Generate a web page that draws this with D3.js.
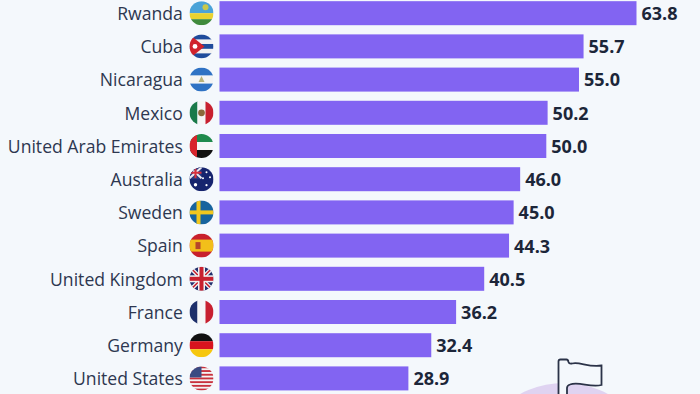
<!DOCTYPE html>
<html>
<head>
<meta charset="utf-8">
<script src="https://cdn.jsdelivr.net/npm/d3@7"></script>
<style>
html, body { margin: 0; padding: 0; background: #f4f8fc; overflow: hidden; }
svg { display: block; }
text { font-family: "Open Sans", sans-serif; }
</style>
</head>
<body>
<div id="chart"></div>
<script>
var countries = ['Rwanda', 'Cuba', 'Nicaragua', 'Mexico', 'United Arab Emirates', 'Australia', 'Sweden', 'Spain', 'United Kingdom', 'France', 'Germany', 'United States'];
var shares = [63.8, 55.7, 55.0, 50.2, 50.0, 46.0, 45.0, 44.3, 40.5, 36.2, 32.4, 28.9];

var width = 700, height = 394;
var x0 = 219.5;

var svg = d3.select('#chart').append('svg').attr('width', width).attr('height', height);

var x = d3.scaleLinear().domain([0, 63.8]).range([x0, 636.5]);
var y = d3.scaleBand().domain(countries).range([-3.4, 395]).paddingInner(0.277).paddingOuter(0.138);

// decoration bottom right
svg.append('circle').attr('cx', 564).attr('cy', 476).attr('r', 93).attr('fill', '#dfd3f1');
svg.append('path')
    .attr('d', 'M558.5 394V361.5Q558.5 359.5 560.5 359.5H566.5Q568 359.5 568.5 362Q569 364 572 363.5C579 361 589 368 601.5 365.5V385C590 388 579 381 570 384.5Q567 385.5 567 388V394')
    .attr('fill', '#f4f8fc').attr('stroke', '#2b3348').attr('stroke-width', 1.8);

// bars
svg.selectAll('rect.bar').data(countries).join('rect')
    .attr('class', 'bar')
    .attr('x', x0)
    .attr('y', d => y(d))
    .attr('width', (d, i) => x(shares[i]) - x0)
    .attr('height', y.bandwidth())
    .attr('fill', '#8264f2');

// country labels
svg.selectAll('text.name').data(countries).join('text')
    .attr('class', 'name')
    .attr('x', 182.8)
    .attr('y', d => y(d) + y.bandwidth() / 2 + 0.6)
    .attr('dy', '0.35em')
    .attr('text-anchor', 'end')
    .attr('font-size', 17.6)
    .attr('fill', '#2d3750')
    .text(d => d);

// values
svg.selectAll('text.val').data(countries).join('text')
    .attr('class', 'val')
    .attr('x', (d, i) => x(shares[i]) + 5)
    .attr('y', d => y(d) + y.bandwidth() / 2 + 0.6)
    .attr('dy', '0.35em')
    .attr('font-size', 18)
    .attr('font-weight', 700)
    .attr('fill', '#1c2639')
    .text((d, i) => shares[i].toFixed(1));

// flags, drawn in a 24x24 box clipped to a circle
var defs = svg.append('defs');
defs.append('clipPath').attr('id', 'flagclip').append('circle').attr('cx', 12).attr('cy', 12).attr('r', 12);

function r(g, x, y, w, h, c) { g.append('rect').attr('x', x).attr('y', y).attr('width', w).attr('height', h).attr('fill', c); }
function p(g, d, c) { g.append('path').attr('d', d).attr('fill', c); }
function c(g, x, y, rad, col) { g.append('circle').attr('cx', x).attr('cy', y).attr('r', rad).attr('fill', col); }

var flags = {
    'Rwanda': g => { r(g, 0, 0, 24, 12, '#4aa3d8'); r(g, 0, 12, 24, 6, '#e8d22f'); r(g, 0, 18, 24, 6, '#3f8a3c'); c(g, 16, 6, 3, '#c9c84a'); },
    'Cuba': g => {
        r(g, 0, 0, 24, 24, '#f2f2f2');
        r(g, 0, 0, 24, 5, '#1f4c9c'); r(g, 0, 9.6, 24, 4.8, '#1f4c9c'); r(g, 0, 19, 24, 5, '#1f4c9c');
        p(g, 'M0 0L15 12L0 24Z', '#d0222c');
        c(g, 5.5, 12, 2.4, '#fff');
    },
    'Nicaragua': g => { r(g, 0, 0, 24, 8, '#2f72c4'); r(g, 0, 8, 24, 8, '#f4f4f4'); r(g, 0, 16, 24, 8, '#2f72c4'); p(g, 'M12 8.5L15 14.5H9Z', '#b9b27a'); },
    'Mexico': g => { r(g, 0, 0, 8, 24, '#1a7a4a'); r(g, 8, 0, 8, 24, '#f6f6f6'); r(g, 16, 0, 8, 24, '#c8202f'); c(g, 12, 12, 3.4, '#8a6a3a'); },
    'United Arab Emirates': g => { r(g, 0, 0, 24, 8, '#1f8a4c'); r(g, 0, 8, 24, 8, '#f6f6f6'); r(g, 0, 16, 24, 8, '#111'); r(g, 0, 0, 7.5, 24, '#d8242c'); },
    'Australia': g => {
        r(g, 0, 0, 24, 24, '#16246e');
        r(g, 0, 0, 12, 12, '#2a3a80');
        g.append('path').attr('d', 'M0 0L12 11M12 0L0 11').attr('stroke', '#e8e8f0').attr('stroke-width', 2);
        r(g, 5, 0, 2, 11, '#d8303c'); r(g, 0, 4.5, 12, 2, '#d8303c');
        [[6, 17.5, 1.7], [17, 5, 1], [17, 18, 1.1], [13.5, 11, 1], [20.5, 10, 1]].forEach(s => c(g, s[0], s[1], s[2], '#fff'));
    },
    'Sweden': g => { r(g, 0, 0, 24, 24, '#17649e'); r(g, 7, 0, 4, 24, '#f2c81e'); r(g, 0, 10, 24, 4, '#f2c81e'); },
    'Spain': g => { r(g, 0, 0, 24, 24, '#c8202c'); r(g, 0, 6, 24, 12, '#f2bf1a'); r(g, 6, 8.5, 5, 7, '#b5452a'); },
    'United Kingdom': g => {
        r(g, 0, 0, 24, 24, '#22306e');
        g.append('path').attr('d', 'M0 0L24 24M24 0L0 24').attr('stroke', '#f2f2f2').attr('stroke-width', 4);
        g.append('path').attr('d', 'M0 0L24 24M24 0L0 24').attr('stroke', '#c8202f').attr('stroke-width', 1.5);
        r(g, 8.5, 0, 7, 24, '#f2f2f2'); r(g, 0, 8.5, 24, 7, '#f2f2f2');
        r(g, 10, 0, 4, 24, '#c8202f'); r(g, 0, 10, 24, 4, '#c8202f');
    },
    'France': g => { r(g, 0, 0, 8, 24, '#1d2f6a'); r(g, 8, 0, 8, 24, '#f6f6f6'); r(g, 16, 0, 8, 24, '#c8202f'); },
    'Germany': g => { r(g, 0, 0, 24, 8, '#111'); r(g, 0, 8, 24, 8, '#d8141e'); r(g, 0, 16, 24, 8, '#f6c70e'); },
    'United States': g => {
        r(g, 0, 0, 24, 24, '#f4f4f4');
        d3.range(0, 24, 3.7).forEach(t => r(g, 0, t, 24, 1.85, '#c8303c'));
        r(g, 0, 0, 12, 11, '#3a4a82');
    }
};

countries.forEach(function(d) {
    var g = svg.append('g')
        .attr('transform', 'translate(189.5,' + (y(d) + y.bandwidth() / 2 - 12) + ')')
        .attr('clip-path', 'url(#flagclip)');
    flags[d](g);
});
</script>
</body>
</html>
